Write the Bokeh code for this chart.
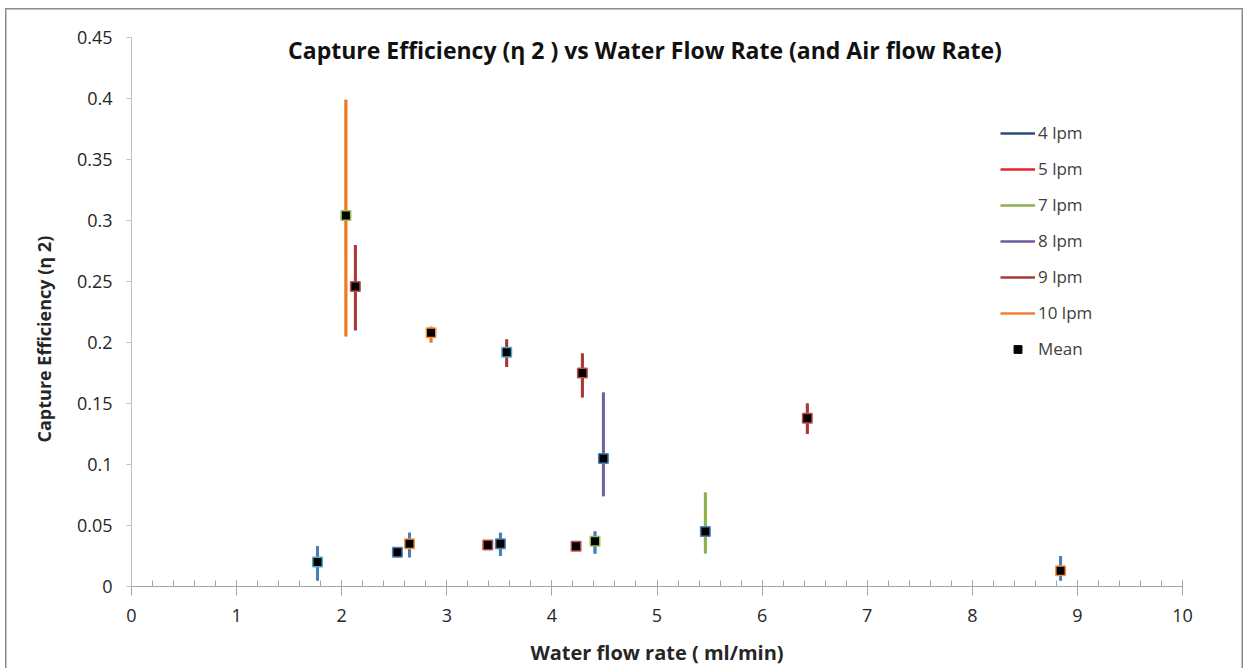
from bokeh.plotting import figure
from bokeh.models import Legend, LegendItem, Label, FixedTicker, ColumnDataSource, Title
from bokeh.embed import file_html
from bokeh.resources import INLINE

# ---------------- data ----------------
air_flow_labels = ["4 lpm", "5 lpm", "7 lpm", "8 lpm", "9 lpm", "10 lpm"]

water_4 = [1.77, 2.645, 3.51, 4.41, 8.84]
mean_4 = [0.020, 0.035, 0.035, 0.037, 0.013]
low_4 = [0.005, 0.024, 0.025, 0.027, 0.005]
high_4 = [0.033, 0.044, 0.044, 0.045, 0.025]

water_5 = [2.53, 3.39, 4.23]
mean_5 = [0.028, 0.034, 0.033]
low_5 = [0.024, 0.031, 0.030]
high_5 = [0.031, 0.036, 0.035]

water_7 = [5.46]
mean_7 = [0.045]
low_7 = [0.027]
high_7 = [0.077]

water_8 = [4.49]
mean_8 = [0.105]
low_8 = [0.074]
high_8 = [0.159]

water_9 = [2.13, 3.57, 4.29, 6.43]
mean_9 = [0.246, 0.192, 0.175, 0.138]
low_9 = [0.210, 0.180, 0.155, 0.125]
high_9 = [0.280, 0.2025, 0.191, 0.150]

water_10 = [2.04, 2.85]
mean_10 = [0.304, 0.208]
low_10 = [0.205, 0.200]
high_10 = [0.399, 0.213]

x_ticks = [0, 1, 2, 3, 4, 5, 6, 7, 8, 9, 10]
y_ticks = [0, 0.05, 0.1, 0.15, 0.2, 0.25, 0.3, 0.35, 0.4, 0.45]
y_tick_labels = ["0", "0.05", "0.1", "0.15", "0.2", "0.25", "0.3", "0.35", "0.4", "0.45"]

title_text = "Capture Efficiency (\u03b7 2 ) vs Water Flow Rate (and Air flow Rate)"
x_title = "Water flow rate ( ml/min)"
y_title = "Capture Efficiency   (\u03b7 2)"

# ---------------- styles ----------------
bar_colors = ["#4A7EBB", "#E0383A", "#8DB24E", "#7560A6", "#A8383A", "#F07A1E"]
legend_colors = ["#2B4C7E", "#E3262B", "#8CB050", "#6E5A9E", "#A83A3A", "#F08030"]
mean_edge = ["#4BACC6", "#F79646", "#4F81BD", "#9BBB59", "#F79646",
             "#4F81BD", "#C0504D", "#C0504D",
             "#4F81BD",
             "#4F81BD",
             "#C0504D", "#4BACC6", "#C0504D", "#C0504D",
             "#9BBB59", "#F79646"]

FONT = "Open Sans"
TXT = "#262626"

groups = [
    (water_4, mean_4, low_4, high_4),
    (water_5, mean_5, low_5, high_5),
    (water_7, mean_7, low_7, high_7),
    (water_8, mean_8, low_8, high_8),
    (water_9, mean_9, low_9, high_9),
    (water_10, mean_10, low_10, high_10),
]

p = figure(width=1248, height=668, output_backend="svg", toolbar_location=None,
           x_range=(0, 10), y_range=(0, 0.45),
           min_border_left=131, min_border_right=66, min_border_top=37, min_border_bottom=82)
p.background_fill_color = None
p.border_fill_color = None
p.outline_line_color = None
p.xgrid.grid_line_color = None
p.ygrid.grid_line_color = None

# outer chart border (left, top, right lines) drawn as CSS inset shadows behind the transparent canvas
p.styles = {
    "background-color": "white",
    "box-shadow": ("inset 5px 0 0 0 #ffffff, inset -5px 0 0 0 #ffffff, inset 0 8px 0 0 #ffffff, "
                   "inset 6.5px 0 0 0 #8C8C8C, inset -6.5px 0 0 0 #8C8C8C, inset 0 9.5px 0 0 #8C8C8C"),
}

# error bars (legend-coloured layer underneath, bar-coloured layer on top)
legend_items = []
for (xs, ms, lo, hi), bc, lc, lab in zip(groups, bar_colors, legend_colors, air_flow_labels):
    src = ColumnDataSource(dict(x=xs, lo=lo, hi=hi))
    under = p.segment(x0="x", y0="lo", x1="x", y1="hi", source=src, line_color=lc, line_width=2.5)
    p.segment(x0="x", y0="lo", x1="x", y1="hi", source=src, line_color=bc, line_width=3)
    legend_items.append(LegendItem(label=lab, renderers=[under]))

# means
all_x, all_m = [], []
for xs, ms, lo, hi in groups:
    all_x += xs
    all_m += ms
msrc = ColumnDataSource(dict(x=all_x, y=all_m, edge=mean_edge))
mean_under = p.scatter(x="x", y="y", source=msrc, marker="square", size=8,
                       fill_color="black", line_color="#1a1a1a", line_width=1)
p.scatter(x="x", y="y", source=msrc, marker="square", size=9.5,
          fill_color="black", line_color="edge", line_width=1.5)
legend_items.append(LegendItem(label="Mean", renderers=[mean_under]))

legend = Legend(items=legend_items, location=(869, 226), orientation="vertical",
                glyph_width=35, glyph_height=20, spacing=13, label_standoff=3,
                padding=0, margin=0, border_line_color=None, background_fill_alpha=0,
                label_text_font=FONT, label_text_font_size="17px", label_text_color="#404040")
p.add_layout(legend)

# axes
xa = p.xaxis[0]
xa.ticker = FixedTicker(ticks=x_ticks, minor_ticks=[i * 0.2 for i in range(51)])
xa.axis_line_color = "#A6A6A6"
xa.major_tick_line_color = "#A6A6A6"
xa.minor_tick_line_color = "#A6A6A6"
xa.major_tick_in = 6
xa.major_tick_out = 9
xa.minor_tick_in = 6
xa.minor_tick_out = 0
xa.major_label_standoff = 13
xa.major_label_text_font = FONT
xa.major_label_text_font_size = "18px"
xa.major_label_text_color = TXT
xa.axis_label = x_title
xa.axis_label_text_font = FONT
xa.axis_label_text_font_style = "bold"
xa.axis_label_text_font_size = "20px"
xa.axis_label_text_color = TXT
xa.axis_label_standoff = 14

ya = p.yaxis[0]
ya.ticker = FixedTicker(ticks=y_ticks, minor_ticks=[])
ya.major_label_overrides = {t: l for t, l in zip(y_ticks, y_tick_labels)}
ya.axis_line_color = "#BFBFBF"
ya.major_tick_line_color = "#BFBFBF"
ya.major_tick_in = 0
ya.major_tick_out = 5
ya.major_label_standoff = 14
ya.major_label_text_font = FONT
ya.major_label_text_font_size = "18px"
ya.major_label_text_color = TXT

# y-axis title (sits a little below the frame centre in the reference)
p.add_layout(Title(text=y_title, align="left", offset=144, standoff=36,
                   text_font=FONT, text_font_style="bold", text_font_size="18px",
                   text_color=TXT), "left")

p.add_layout(Label(x=4.886, y=0.4395, text=title_text,
                   text_align="center", text_baseline="middle", text_font=FONT,
                   text_font_style="bold", text_font_size="23px", text_color="#111111"))

open("out.html", "w").write(file_html(p, INLINE))
